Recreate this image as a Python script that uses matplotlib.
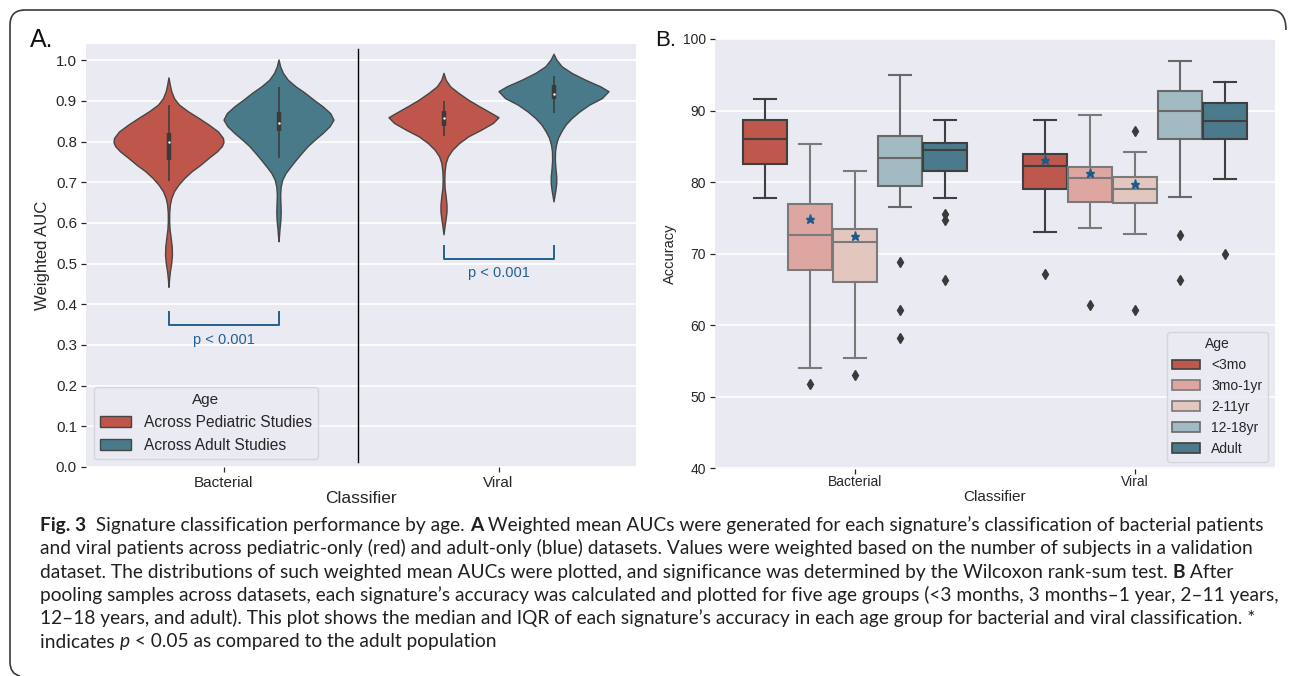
import numpy as np
import matplotlib.pyplot as plt
from matplotlib.path import Path
from matplotlib.patches import PathPatch, Patch
from matplotlib.font_manager import FontProperties

W, H = 1293, 676

# ---------------- panel A: weighted AUC (violins) ----------------
classifiers = ["Bacterial", "Viral"]
auc_groups = ["Across Pediatric Studies", "Across Adult Studies"]
auc_colors = ["#BE564B", "#497A8A"]

# violin outlines: AUC level and relative density (1 = widest)
bact_ped_auc = [0.958, 0.940, 0.924, 0.907, 0.891, 0.875, 0.858, 0.842, 0.825, 0.809, 0.799,
                0.789, 0.776, 0.760, 0.743, 0.727, 0.711, 0.694, 0.678, 0.661, 0.645, 0.625,
                0.604, 0.584, 0.563, 0.543, 0.522, 0.502, 0.481, 0.461, 0.443]
bact_ped_dens = [0.0, 0.024, 0.05, 0.10, 0.19, 0.35, 0.55, 0.73, 0.90, 0.99, 1.0,
                 0.97, 0.88, 0.73, 0.58, 0.42, 0.29, 0.18, 0.10, 0.05, 0.025, 0.013,
                 0.012, 0.02, 0.04, 0.058, 0.063, 0.05, 0.025, 0.01, 0.0]

bact_adult_auc = [1.002, 0.985, 0.969, 0.952, 0.936, 0.920, 0.903, 0.887, 0.870, 0.854, 0.838,
                  0.821, 0.805, 0.789, 0.772, 0.756, 0.739, 0.723, 0.707, 0.690, 0.670, 0.649,
                  0.629, 0.608, 0.588, 0.567, 0.555]
bact_adult_dens = [0.0, 0.03, 0.08, 0.17, 0.31, 0.48, 0.64, 0.80, 0.94, 1.0, 0.93,
                   0.80, 0.66, 0.53, 0.42, 0.32, 0.22, 0.13, 0.07, 0.04, 0.03, 0.035,
                   0.04, 0.035, 0.02, 0.008, 0.0]

viral_ped_auc = [0.969, 0.952, 0.936, 0.920, 0.903, 0.887, 0.874, 0.860, 0.846, 0.829, 0.813,
                 0.796, 0.780, 0.764, 0.748, 0.727, 0.706, 0.686, 0.665, 0.645, 0.628, 0.612,
                 0.591, 0.572]
viral_ped_dens = [0.0, 0.04, 0.12, 0.27, 0.45, 0.65, 0.82, 1.0, 0.90, 0.68, 0.45,
                  0.28, 0.16, 0.08, 0.04, 0.02, 0.015, 0.02, 0.04, 0.055, 0.055, 0.04,
                  0.018, 0.0]

viral_adult_auc = [1.016, 1.002, 0.985, 0.969, 0.952, 0.936, 0.924, 0.907, 0.891, 0.874, 0.858,
                   0.842, 0.825, 0.809, 0.792, 0.776, 0.755, 0.735, 0.714, 0.698, 0.681, 0.665,
                   0.653]
viral_adult_dens = [0.0, 0.05, 0.15, 0.33, 0.58, 0.85, 1.0, 0.88, 0.65, 0.47, 0.33,
                    0.22, 0.14, 0.08, 0.045, 0.028, 0.025, 0.035, 0.05, 0.05, 0.035, 0.015,
                    0.0]

# inner boxes, order: bact ped, bact adult, viral ped, viral adult
inner_whislo = [0.702, 0.760, 0.815, 0.871]
inner_q1 = [0.754, 0.825, 0.838, 0.905]
inner_med = [0.799, 0.846, 0.858, 0.918]
inner_q3 = [0.821, 0.872, 0.875, 0.939]
inner_whishi = [0.891, 0.934, 0.901, 0.962]

bracket_y = [0.348, 0.511]
pval_text = ["p < 0.001", "p < 0.001"]

# ---------------- panel B: accuracy (boxes) ----------------
age_groups = ["<3mo", "3mo-1yr", "2-11yr", "12-18yr", "Adult"]
acc_colors = ["#BF584C", "#DEA6A1", "#E3C6BE", "#A2BAC1", "#4A7A8B"]
acc_edges = ["#3F3F3F", "#7A7A7A", "#7A7A7A", "#686868", "#3F3F3F"]

bact_whislo = [77.8, 54.0, 55.5, 76.5, 77.8]
bact_q1 = [82.5, 67.7, 66.0, 79.5, 81.6]
bact_med = [86.0, 72.6, 71.6, 83.4, 84.5]
bact_q3 = [88.7, 77.0, 73.5, 86.4, 85.5]
bact_whishi = [91.6, 85.3, 81.5, 95.0, 88.7]
bact_fliers = [[], [51.8], [53.0], [68.9, 62.1, 58.3], [75.5, 74.7, 66.4]]
bact_stars = [np.nan, 74.8, 72.5, np.nan, np.nan]

viral_whislo = [73.1, 73.6, 72.7, 77.9, 80.4]
viral_q1 = [79.1, 77.2, 77.1, 86.1, 86.0]
viral_med = [82.3, 80.6, 79.1, 89.9, 88.5]
viral_q3 = [83.9, 82.1, 80.7, 92.7, 91.0]
viral_whishi = [88.7, 89.4, 84.2, 96.9, 94.0]
viral_fliers = [[67.2], [62.8], [87.2, 62.2], [72.6, 66.3], [70.0]]
viral_stars = [83.1, 81.3, 79.8, np.nan, np.nan]

caption_lines = [
    [("Fig. 3", "bold", "normal"), ("  Signature classification performance by age. ", "normal", "normal"),
     ("A", "bold", "normal"),
     (" Weighted mean AUCs were generated for each signature\u2019s classification of bacterial patients", "normal", "normal")],
    [("and viral patients across pediatric-only (red) and adult-only (blue) datasets. Values were weighted based on the number of subjects in a validation", "normal", "normal")],
    [("dataset. The distributions of such weighted mean AUCs were plotted, and significance was determined by the Wilcoxon rank-sum test. ", "normal", "normal"),
     ("B", "bold", "normal"), (" After", "normal", "normal")],
    [("pooling samples across datasets, each signature\u2019s accuracy was calculated and plotted for five age groups (<3 months, 3 months\u20131 year, 2\u201311 years,", "normal", "normal")],
    [("12\u201318 years, and adult). This plot shows the median and IQR of each signature\u2019s accuracy in each age group for bacterial and viral classification. *", "normal", "normal")],
    [("indicates ", "normal", "normal"), ("p", "normal", "italic"), (" < 0.05 as compared to the adult population", "normal", "normal")],
]

plt.rcParams["font.family"] = ["Liberation Sans", "DejaVu Sans"]
TXT = "#262626"

fig = plt.figure(figsize=(W / 100, H / 100), dpi=100)
fig.patch.set_facecolor("white")
axA = fig.add_axes([86 / W, 1 - 467 / H, 550 / W, 423 / H])
axB = fig.add_axes([715 / W, 1 - 468.5 / H, 560 / W, 429.5 / H])


def style(ax, ticksize):
    ax.set_facecolor("#EAEAF2")
    for s in ax.spines.values():
        s.set_visible(False)
    ax.grid(axis="y", color="white", lw=1.2)
    ax.grid(axis="x", visible=False)
    ax.set_axisbelow(True)
    ax.tick_params(length=3.5, width=0.9, color=TXT, labelsize=ticksize, labelcolor=TXT, pad=3)


style(axA, 10.8)
style(axB, 10)

# ---- panel A ----
violins = [(bact_ped_auc, bact_ped_dens), (bact_adult_auc, bact_adult_dens),
           (viral_ped_auc, viral_ped_dens), (viral_adult_auc, viral_adult_dens)]
offsets = [-0.2, 0.2]
for k, (auc, dens) in enumerate(violins):
    ci, gi = divmod(k, 2)
    pos = ci + offsets[gi]
    d = np.array(dens) * 0.2
    axA.fill_betweenx(auc, pos - d, pos + d, facecolor=auc_colors[gi], edgecolor="#454545",
                      lw=1, zorder=2)
    axA.plot([pos, pos], [inner_whislo[k], inner_whishi[k]], color="#3A3A3A", lw=1.1,
             solid_capstyle="butt", zorder=3)
    axA.plot([pos, pos], [inner_q1[k], inner_q3[k]], color="#3A3A3A", lw=3.2,
             solid_capstyle="butt", zorder=3)
    axA.scatter([pos], [inner_med[k]], s=3, color="white", zorder=4, linewidths=0)

# significance brackets
for ci, by in enumerate(bracket_y):
    x0, x1 = ci + offsets[0], ci + offsets[1]
    axA.plot([x0, x0, x1, x1], [by + 0.032, by, by, by + 0.032], color="#24608F", lw=1.4, zorder=3)
    axA.text(ci, by - 0.035, pval_text[ci], ha="center", va="center", fontsize=10.5, color="#24608F")

axA.axvline(0.488, 0.012, 0.987, color="black", lw=1, zorder=3)
axA.set_xlim(-0.5, 1.5)
axA.set_ylim(0, 1.04)
axA.set_yticks(np.arange(0, 1.01, 0.1))
axA.set_yticklabels([f"{v:.1f}" for v in np.arange(0, 1.01, 0.1)])
axA.set_xticks([0, 1])
axA.set_xticklabels(classifiers, fontsize=11)
axA.set_ylabel("Weighted AUC", fontsize=12, color=TXT)
axA.set_xlabel("Classifier", fontsize=12.5, color=TXT, labelpad=0.5)

legA = axA.legend(handles=[Patch(facecolor=c, edgecolor="#454545", lw=1) for c in auc_colors],
                  labels=auc_groups, title="Age", loc="lower left", fontsize=11.2,
                  title_fontsize=11, facecolor="#EAEAF2", edgecolor="#D0D0D8", framealpha=0.8)
for t in legA.get_texts():
    t.set_color(TXT)
legA.get_title().set_color(TXT)

# ---- panel B ----
box_offsets = [-0.32, -0.16, 0.0, 0.16, 0.32]
panels = [(bact_whislo, bact_q1, bact_med, bact_q3, bact_whishi, bact_fliers, bact_stars),
          (viral_whislo, viral_q1, viral_med, viral_q3, viral_whishi, viral_fliers, viral_stars)]
for ci, (wlo, q1, med, q3, whi, fl, stars) in enumerate(panels):
    for gi in range(len(age_groups)):
        st = dict(whislo=wlo[gi], q1=q1[gi], med=med[gi], q3=q3[gi], whishi=whi[gi], fliers=fl[gi])
        pos = ci + box_offsets[gi]
        ec = acc_edges[gi]
        axB.bxp([st], positions=[pos], widths=0.157, patch_artist=True, showfliers=True,
                manage_ticks=False,
                boxprops=dict(facecolor=acc_colors[gi], edgecolor=ec, lw=1.5),
                whiskerprops=dict(color=ec, lw=1.5), capprops=dict(color=ec, lw=1.5),
                medianprops=dict(color=ec, lw=1.5),
                flierprops=dict(marker="d", markerfacecolor="#3A3A3A", markeredgecolor="#3A3A3A",
                                markersize=5))
        if not np.isnan(stars[gi]):
            axB.plot([pos], [stars[gi]], marker="*", color="#1D5A8C", ms=6.5, ls="none", zorder=5)

axB.set_xlim(-0.5, 1.5)
axB.set_ylim(40, 100)
axB.set_yticks(np.arange(40, 101, 10))
axB.set_xticks([0, 1])
axB.set_xticklabels(classifiers)
axB.tick_params(axis="x", pad=1.5)
axB.set_ylabel("Accuracy", fontsize=10.5, color=TXT)
axB.set_xlabel("Classifier", fontsize=11, color=TXT, labelpad=0.5)

legB = axB.legend(handles=[Patch(facecolor=c, edgecolor=e, lw=1.2) for c, e in zip(acc_colors, acc_edges)],
                  labels=age_groups, title="Age", loc="lower right", fontsize=10,
                  title_fontsize=10, facecolor="#EAEAF2", edgecolor="#D0D0D8", framealpha=0.8)
for t in legB.get_texts():
    t.set_color(TXT)
legB.get_title().set_color(TXT)

# panel letters
fig.text(30 / W, 1 - 47 / H, "A.", fontsize=18, va="baseline", color="#111111")
fig.text(655 / W, 1 - 46 / H, "B.", fontsize=16, va="baseline", color="#111111")

# frame round the figure (open at the right and bottom)
frame_px = [(1286, 30), (1286, 10), (1271, 10), (25, 10), (10, 10), (10, 25), (10, 662), (10, 674), (20, 676)]
codes = [Path.MOVETO, Path.CURVE3, Path.CURVE3, Path.LINETO, Path.CURVE3, Path.CURVE3,
         Path.LINETO, Path.CURVE3, Path.CURVE3]
frame = Path([(x / W, 1 - y / H) for x, y in frame_px], codes)
fig.add_artist(PathPatch(frame, transform=fig.transFigure, fill=False, ec="#3A3A3A", lw=1.2))

# caption
renderer = fig.canvas.get_renderer()
cap_family = ["Lato", "DejaVu Sans"]


def run_width(txt, size, weight, fstyle):
    prop = FontProperties(family=cap_family, size=size, weight=weight, style=fstyle)
    w1 = renderer.get_text_width_height_descent("|" + txt + "|", prop, False)[0]
    w0 = renderer.get_text_width_height_descent("||", prop, False)[0]
    return w1 - w0


base = 12
w_line1 = sum(run_width(t, base, w, s) for t, w, s in caption_lines[0])
cap_size = base * 1222 / w_line1

for i, line in enumerate(caption_lines):
    x = 40.0
    y = 531 + 23.3 * i
    for txt, weight, fstyle in line:
        fig.text(x / W, 1 - y / H, txt, fontsize=cap_size, fontweight=weight, fontstyle=fstyle,
                 family=cap_family, va="baseline", ha="left", color="#231F20")
        x += run_width(txt, cap_size, weight, fstyle)

fig.savefig("out.png", dpi=100)
